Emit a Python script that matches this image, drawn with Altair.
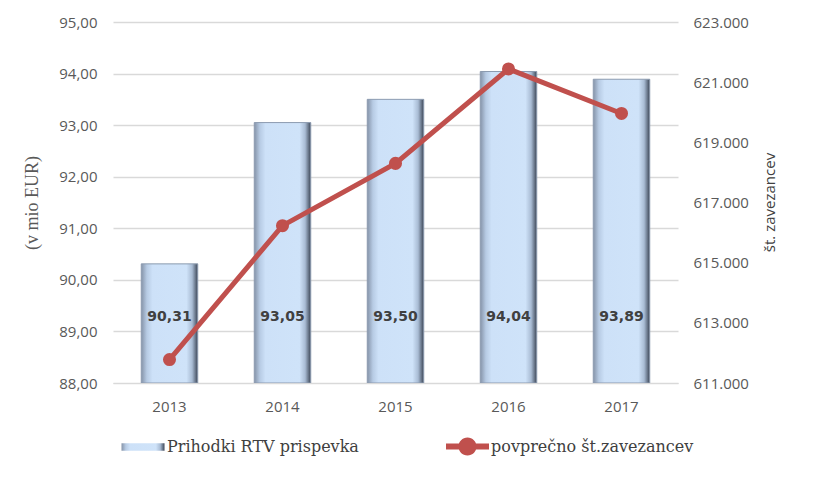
import altair as alt
import pandas as pd

years = ["2013", "2014", "2015", "2016", "2017"]
revenue = [90.31, 93.05, 93.50, 94.04, 93.89]
payers = [611780, 616230, 618300, 621440, 619960]
revenue_labels = ["90,31", "93,05", "93,50", "94,04", "93,89"]
right_ticks = [611000, 613000, 615000, 617000, 619000, 621000, 623000]
left_ticks = [88, 89, 90, 91, 92, 93, 94, 95]

s1 = "Prihodki RTV prispevka"
s2 = "povprečno št.zavezancev"

df = pd.DataFrame({
    "year": years,
    "revenue": revenue,
    "payers": payers,
    "label": revenue_labels,
    "s1": [s1] * len(years),
    "s2": [s2] * len(years),
})

bar_grad = alt.Gradient(
    gradient="linear",
    x1=0, x2=1, y1=0, y2=0,
    stops=[
        alt.GradientStop(color="#8593a8", offset=0),
        alt.GradientStop(color="#b7cbe4", offset=0.1),
        alt.GradientStop(color="#cde1f8", offset=0.2),
        alt.GradientStop(color="#cfe3f9", offset=0.8),
        alt.GradientStop(color="#a9bcd4", offset=0.9),
        alt.GradientStop(color="#3c4656", offset=1),
    ],
)

x_enc = alt.X(
    "year:N",
    scale=alt.Scale(paddingInner=0.5, paddingOuter=0.25),
    axis=alt.Axis(
        title=None, labelAngle=0, ticks=False, domain=True,
        domainColor="#d9d9d9", labelFont="Open Sans", labelFontSize=15,
        labelColor="#595959", labelPadding=16,
    ),
)

y_left = alt.Y(
    "revenue:Q",
    scale=alt.Scale(domain=[88, 95], zero=False),
    axis=alt.Axis(
        values=left_ticks, title="(v mio EUR)", titleFont="Liberation Serif",
        titleFontSize=18, titleFontWeight="normal", titleColor="#595959",
        titlePadding=17, labelFont="Open Sans", labelFontSize=15,
        labelColor="#595959", labelPadding=16, ticks=False, domain=False,
        grid=True, gridColor="#d9d9d9", gridWidth=1.5,
        labelExpr="replace(format(datum.value, '.2f'), '.', ',')",
    ),
)

legend_font = "DejaVu Serif"

bars = alt.Chart(df).mark_bar(
    fill=bar_grad, stroke="#8c9bb0", strokeWidth=1, clip=True
).encode(
    x=x_enc,
    y=y_left,
    y2=alt.datum(88),
    opacity=alt.Opacity(
        "s1:N",
        scale=alt.Scale(domain=[s1], range=[1]),
        legend=alt.Legend(
            title=None, orient="none", legendX=8, legendY=403,
            symbolType="M-1,-0.18H1V0.18H-1Z", symbolSize=1849,
            symbolFillColor="#b9cde4", symbolStrokeColor="#4a5668",
            symbolStrokeWidth=1, symbolOpacity=1,
            labelFont=legend_font, labelFontSize=16,
            labelColor="#404040", labelOffset=2, labelLimit=400,
        ),
    ),
)

texts = alt.Chart(df).mark_text(
    font="DejaVu Sans", fontWeight="bold", fontSize=14, color="#404040"
).encode(
    x=x_enc,
    y=alt.datum(89.28),
    text="label:N",
)

y_right = alt.Y(
    "payers:Q",
    scale=alt.Scale(domain=[611000, 623000], zero=False),
    axis=alt.Axis(
        orient="right", values=right_ticks, grid=False, ticks=False,
        domain=False, title="št. zavezancev", titleFont="Open Sans",
        titleFontSize=15, titleFontWeight="normal", titleColor="#404040",
        titlePadding=14, titleAngle=270, titleBaseline="top",
        titleAlign="center", titleY=180,
        labelFont="Open Sans", labelFontSize=15,
        labelColor="#595959", labelPadding=15,
        labelExpr="replace(format(datum.value, ',.0f'), ',', '.')",
    ),
)

color_enc = alt.Color(
    "s2:N",
    scale=alt.Scale(domain=[s2], range=["#c0504d"]),
    legend=alt.Legend(
        title=None, orient="none", legendX=333, legendY=403,
        symbolType="M-1,-0.14H1V0.14H-1Z M-0.42,0A0.42,0.42 0 1,1 0.42,0A0.42,0.42 0 1,1 -0.42,0Z",
        symbolSize=1849, symbolFillColor="#c0504d", symbolStrokeWidth=0,
        labelFont=legend_font, labelFontSize=16,
        labelColor="#404040", labelOffset=2, labelLimit=400,
    ),
)

line = alt.Chart(df).mark_line(strokeWidth=5).encode(
    x=x_enc, y=y_right, color=color_enc
)
points = alt.Chart(df).mark_point(filled=True, size=170, opacity=1).encode(
    x=x_enc, y=y_right, color=color_enc
)

left = alt.layer(bars, texts)
right = alt.layer(line, points)

chart = alt.layer(left, right).resolve_scale(
    y="independent"
).properties(
    width=565, height=361,
    autosize=alt.AutoSizeParams(type="none"),
    padding={"left": 105, "top": 14, "right": 127, "bottom": 90},
    background="white",
).configure_view(stroke=None)

chart.save("out.html", embed_options={"renderer": "svg", "actions": False})
